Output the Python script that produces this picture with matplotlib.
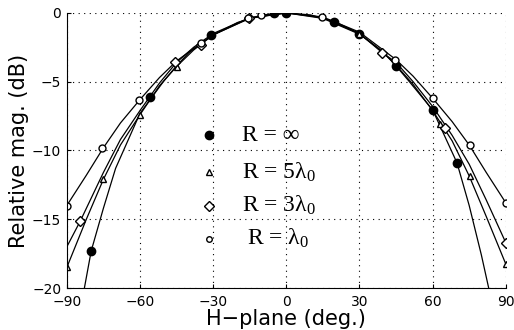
import matplotlib
matplotlib.use("Agg")
import matplotlib.pyplot as plt

# curves (angle in deg, relative magnitude in dB)
inf_ang = [-82.8, -80, -75, -70, -60, -50, -45, -40, -30, -20, -10, 0, 10, 20, 30, 40, 45, 50, 60, 70, 75, 80, 83]
inf_db = [-20, -17.3, -14.2, -11.3, -7.3, -4.9, -3.85, -2.9, -1.6, -0.7, -0.15, 0, -0.15, -0.65, -1.5, -2.9, -3.85, -4.9, -7.05, -10.9, -14.0, -17.6, -20]

r5_ang = [-90, -82, -75, -68, -60, -52, -45, -38, -30, -15, 0, 15, 30, 38, 45, 52, 60, 68, 75, 82, 90]
r5_db = [-18.5, -15.0, -12.1, -9.6, -7.4, -5.3, -3.9, -2.7, -1.6, -0.4, 0, -0.4, -1.55, -2.6, -3.8, -5.2, -7.1, -9.3, -11.85, -14.8, -18.25]

r3_ang = [-90, -84.4, -75, -68, -60, -52, -45, -38, -30, -15, 0, 15, 30, 39.4, 45, 52, 60, 68, 75, 82, 90]
r3_db = [-17.0, -15.1, -11.6, -9.2, -7.1, -5.1, -3.6, -2.5, -1.5, -0.35, 0, -0.35, -1.5, -2.9, -3.6, -5.0, -6.8, -8.9, -11.0, -13.6, -16.7]

r1_ang = [-90, -82, -75, -68, -60, -52, -45, -35, -30, -15, 0, 15, 30, 45, 52, 60, 68, 75, 82, 90]
r1_db = [-14.0, -11.8, -9.8, -8.0, -6.3, -4.7, -3.5, -2.2, -1.6, -0.37, 0, -0.3, -1.4, -3.4, -4.6, -6.2, -7.9, -9.6, -11.6, -13.8]

# measured points (markers)
inf_pt_ang = [-80, -56, -31, -5, 0, 19.5, 30, 45, 60, 70]
inf_pt_db = [-17.3, -6.1, -1.6, 0, 0, -0.65, -1.5, -3.85, -7.05, -10.9]

r5_pt_ang = [-90, -75, -60, -45, 30, 63, 75.5, 90]
r5_pt_db = [-18.5, -12.1, -7.4, -3.9, -1.55, -8.1, -11.85, -18.25]

r3_pt_ang = [-84.4, -45.6, -35, -15.4, 39.4, 65, 90]
r3_pt_db = [-15.1, -3.6, -2.3, -0.37, -2.9, -8.4, -16.7]

r1_pt_ang = [-90, -75.6, -60.5, -35, -15.8, -10.5, 14.6, 44.6, 60, 75.5, 90]
r1_pt_db = [-14.0, -9.8, -6.3, -2.2, -0.37, -0.15, -0.3, -3.4, -6.2, -9.6, -13.8]

legend_labels = ['R = \u221e', 'R = 5\u03bb$_0$', 'R = 3\u03bb$_0$', 'R = \u03bb$_0$']

plt.rcParams['mathtext.fontset'] = 'custom'
plt.rcParams['mathtext.rm'] = 'Liberation Serif'
plt.rcParams['mathtext.it'] = 'Liberation Serif:italic'

fig = plt.figure(figsize=(5.14, 3.30), dpi=100)
ax = fig.add_axes([0.130, 0.127, 0.854, 0.834])

for a, d in [(inf_ang, inf_db), (r5_ang, r5_db), (r3_ang, r3_db), (r1_ang, r1_db)]:
    ax.plot(a, d, color='black', lw=0.9)

ax.plot(inf_pt_ang, inf_pt_db, 'o', color='black', ms=6)
ax.plot(r5_pt_ang, r5_pt_db, '^', mfc='white', mec='black', ms=5, mew=1.0)
ax.plot(r3_pt_ang, r3_pt_db, 'D', mfc='white', mec='black', ms=5, mew=1.0)
ax.plot(r1_pt_ang, r1_pt_db, 'o', mfc='white', mec='black', ms=5, mew=1.0)

# hand placed legend
leg_y = [-8.9, -11.6, -14.0, -16.4]
leg_style = [dict(marker='o', color='black', ms=6),
             dict(marker='^', mfc='white', mec='black', ms=4),
             dict(marker='D', mfc='white', mec='black', ms=5),
             dict(marker='o', mfc='white', mec='black', ms=4)]
leg_tx = [-18, -18, -18, -16]
for y, st, lab, tx in zip(leg_y, leg_style, legend_labels, leg_tx):
    ax.plot([-31.5], [y], linestyle='none', **st)
    ax.text(tx, y, lab, fontsize=17, family='Liberation Serif', va='center', ha='left')

ax.set_xlim(-90, 90)
ax.set_ylim(-20, 0)
ax.set_xticks([-90, -60, -30, 0, 30, 60, 90])
ax.set_yticks([0, -5, -10, -15, -20])
ax.set_xticklabels(['\u221290', '\u221260', '\u221230', '0', '30', '60', '90'])
ax.set_yticklabels(['0', '\u22125', '\u221210', '\u221215', '\u221220'])
ax.tick_params(direction='in', length=3, labelsize=10)
ax.tick_params(axis='x', pad=5)
ax.tick_params(axis='y', pad=4)
ax.grid(True, linestyle=(0, (1, 4)), color='black', lw=0.8)
ax.spines['top'].set_visible(False)
ax.spines['right'].set_visible(False)
ax.set_xlabel('H\u2212plane (deg.)', fontsize=15, labelpad=0)
ax.set_ylabel('Relative mag. (dB)', fontsize=15, labelpad=2)

fig.savefig('out.png', dpi=100)
